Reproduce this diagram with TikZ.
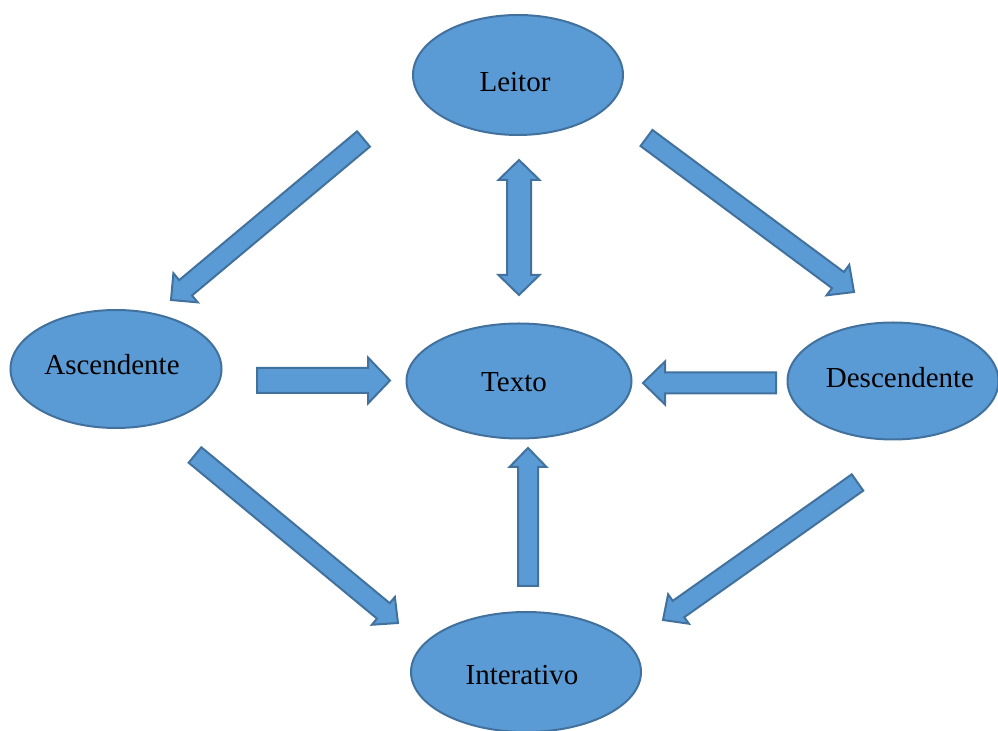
\documentclass[tikz,border=0pt]{standalone}
\usepackage{fontspec}
\setmainfont{Liberation Serif}
\usetikzlibrary{shapes.geometric,calc}
\definecolor{fillblue}{HTML}{5B9BD5}
\definecolor{edgeblue}{HTML}{41719C}

% block arrow: tail, tip, shaft half width, head half width, head length
\newcommand{\blockarrow}[5]{%
   \coordinate (hb) at ($(#2)!#5!(#1)$);
   \draw[fatarrow] ($(#1)!#3!90:(#2)$) -- ($(hb)!#3!90:(#2)$) -- ($(hb)!#4!90:(#2)$)
      -- (#2) -- ($(hb)!#4!-90:(#2)$) -- ($(hb)!#3!-90:(#2)$) -- ($(#1)!#3!-90:(#2)$) -- cycle;}

\begin{document}
\begin{tikzpicture}[x=0.5pt,y=-0.5pt,
   bubble/.style={ellipse,draw=edgeblue,fill=fillblue,line width=1pt,inner sep=0pt},
   bubbletext/.style={font=\fontsize{14.5}{17}\selectfont,inner sep=0pt},
   fatarrow/.style={draw=edgeblue,fill=fillblue,line width=1pt,line join=miter}]
   \useasboundingbox (0,0) rectangle (998,731);
   \node[bubble,minimum width=105pt,minimum height=60pt,
      label={[bubbletext,xshift=-1.5pt,yshift=-3.5pt]center:Leitor}]        (leitor)      at (518,75)  {};
   \node[bubble,minimum width=105.5pt,minimum height=59pt,
      label={[bubbletext,xshift=-2pt,yshift=2pt]center:Ascendente}]         (ascendente)  at (116,369) {};
   \node[bubble,minimum width=112.5pt,minimum height=57.5pt,
      label={[bubbletext,xshift=-2.5pt,yshift=-0.5pt]center:Texto}]         (texto)       at (519,381) {};
   \node[bubble,minimum width=105.5pt,minimum height=58.5pt,
      label={[bubbletext,xshift=3.5pt,yshift=1.5pt]center:Descendente}]     (descendente) at (893,381) {};
   \node[bubble,minimum width=115pt,minimum height=60pt,
      label={[bubbletext,xshift=-2pt,yshift=-1.5pt]center:Interativo}]      (interativo)  at (526,672) {};
   % arrow ends
   \coordinate (la0) at (363.5,139);  \coordinate (la1) at (171,300);
   \coordinate (ld0) at (646.5,138);  \coordinate (ld1) at (854,292);
   \coordinate (ai0) at (195,455);    \coordinate (ai1) at (398,623);
   \coordinate (di0) at (857.5,482.5); \coordinate (di1) at (663,620);
   \coordinate (at0) at (257,380.5);  \coordinate (at1) at (390,380.5);
   \coordinate (dt0) at (776,383);    \coordinate (dt1) at (643,383);
   \coordinate (it0) at (528,586);    \coordinate (it1) at (528,448);
   \coordinate (lt0) at (519,160);    \coordinate (lt1) at (519,295);
   \blockarrow{la0}{la1}{5pt}{9.5pt}{9.5pt}
   \blockarrow{ld0}{ld1}{5pt}{9.5pt}{10pt}
   \blockarrow{ai0}{ai1}{5pt}{9pt}{9.5pt}
   \blockarrow{di0}{di1}{5pt}{9pt}{9.5pt}
   \blockarrow{at0}{at1}{6.25pt}{11.5pt}{11pt}
   \blockarrow{dt0}{dt1}{5.25pt}{10.75pt}{11pt}
   \blockarrow{it0}{it1}{5pt}{9.25pt}{9.5pt}
   % double arrow
   \coordinate (hu) at ($(lt0)!10pt!(lt1)$);
   \coordinate (hd) at ($(lt1)!10pt!(lt0)$);
   \draw[fatarrow] (lt0) -- ($(hu)!10.25pt!90:(lt1)$) -- ($(hu)!6pt!90:(lt1)$) -- ($(hd)!6pt!-90:(lt0)$)
      -- ($(hd)!10.25pt!-90:(lt0)$) -- (lt1) -- ($(hd)!10.25pt!90:(lt0)$) -- ($(hd)!6pt!90:(lt0)$)
      -- ($(hu)!6pt!-90:(lt1)$) -- ($(hu)!10.25pt!-90:(lt1)$) -- cycle;
\end{tikzpicture}
\end{document}
